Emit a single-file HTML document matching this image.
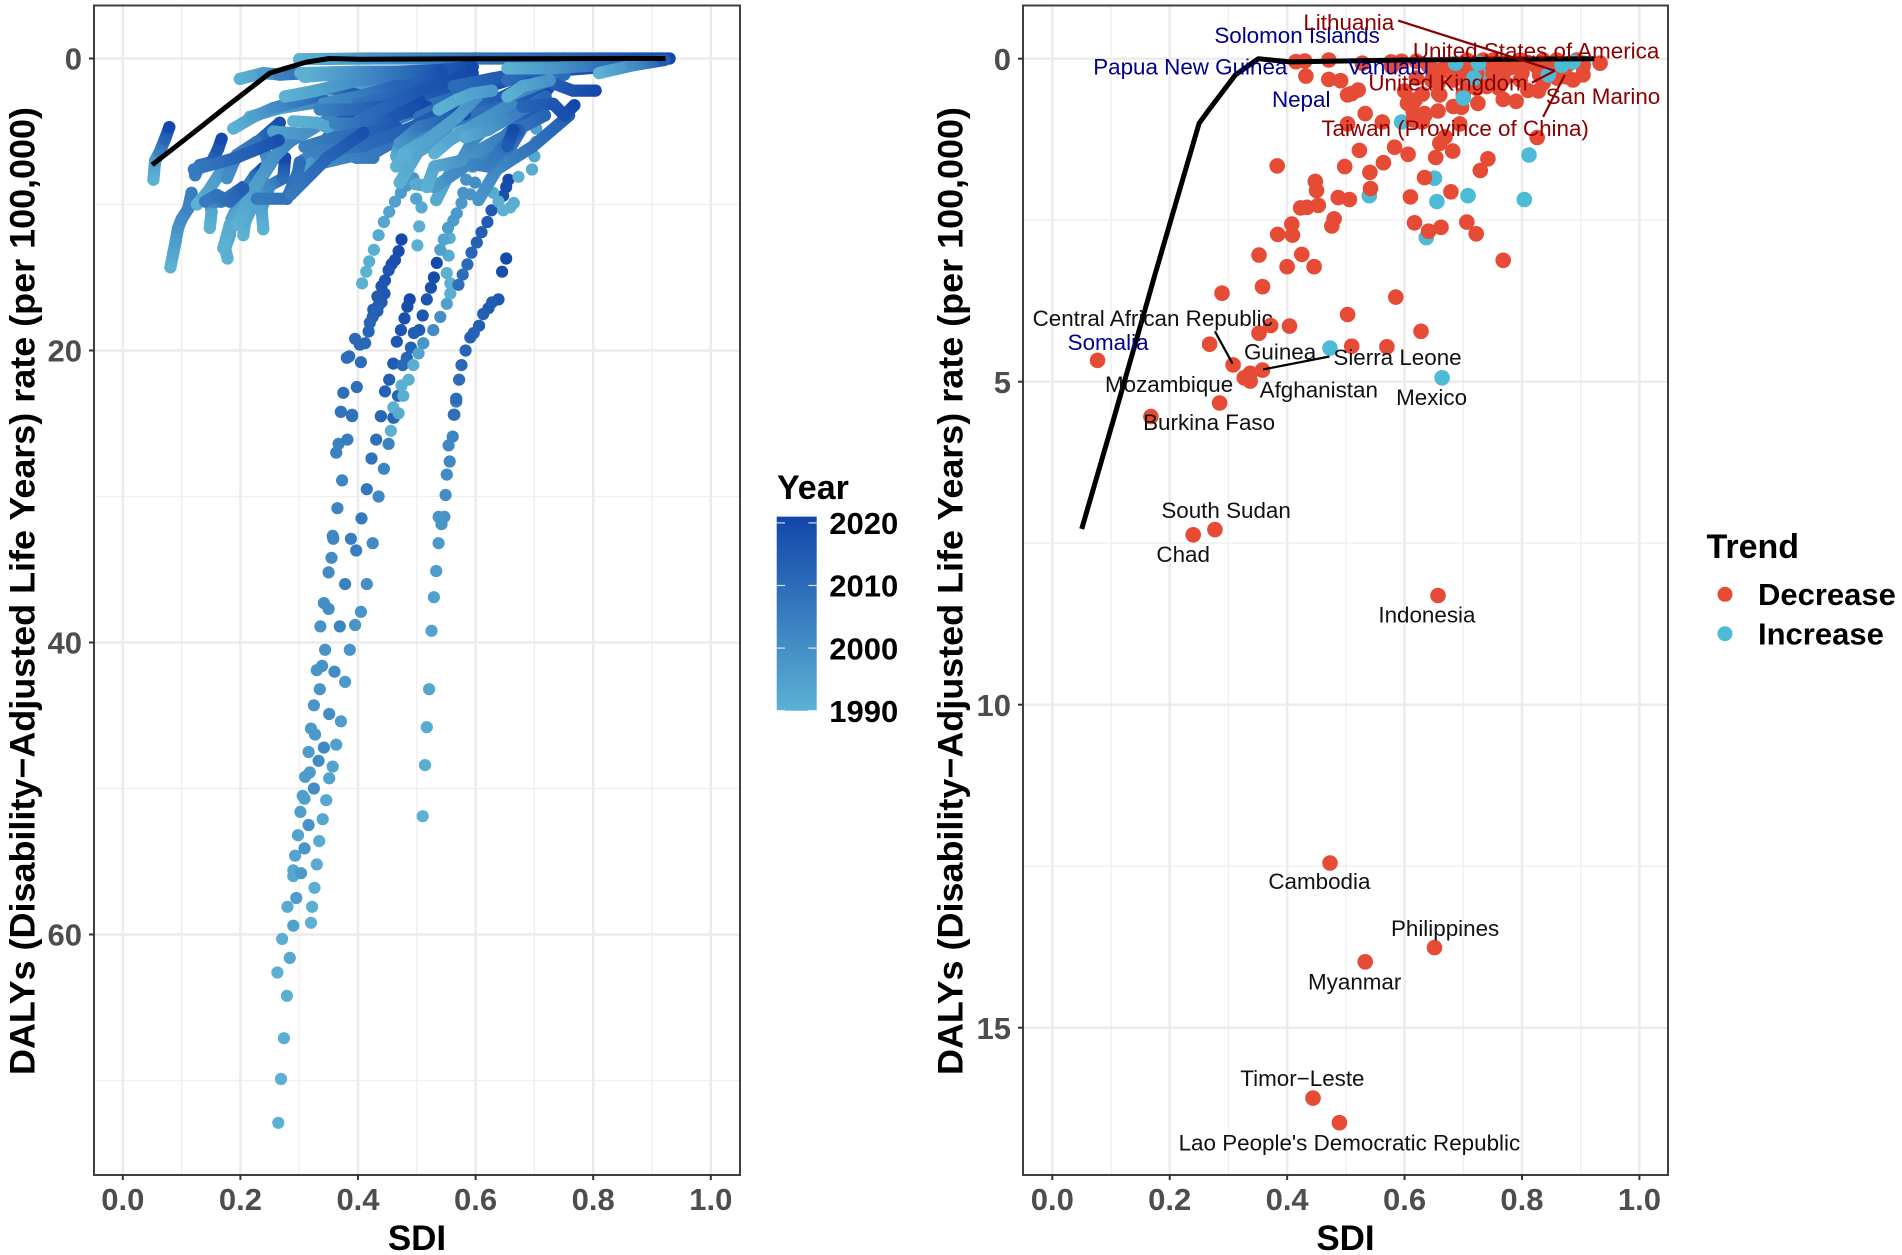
<!DOCTYPE html>
<html lang="en">
<head>
<meta charset="utf-8">
<title>DALYs rate versus SDI</title>
<style>
html,body{margin:0;padding:0;background:#fff;width:1902px;height:1255px;overflow:hidden}
svg{display:block;font-family:"Liberation Sans",sans-serif}
</style>
</head>
<body>
<svg id="chart" xmlns="http://www.w3.org/2000/svg" width="1902" height="1255" viewBox="0 0 1902 1255">
<defs id="gradients"></defs>
</svg>
<script>
/* ---------- axis values ---------- */
const sdiTicks = [0, 0.2, 0.4, 0.6, 0.8, 1.0];
const sdiMinorTicks = [0.1, 0.3, 0.5, 0.7, 0.9];
const leftDalyTicks = [0, 20, 40, 60];
const leftDalyMinorTicks = [10, 30, 50, 70];
const rightDalyTicks = [0, 5, 10, 15];
const rightDalyMinorTicks = [2.5, 7.5, 12.5];
const yearLegendTicks = [1990, 2000, 2010, 2020];

/* ---------- expected-value curve (shared by both panels) ---------- */
const expectedSdi = [0.05, 0.107, 0.164, 0.172, 0.25, 0.266, 0.312, 0.351, 0.405, 0.6, 0.923];
const expectedDaly = [7.28, 5.5, 3.69, 3.43, 1.0, 0.8, 0.25, 0, 0.05, 0.02, 0];

/* ---------- left panel: dense trajectories (readings joined into a band) ---------- */
const bandSdi = [
 [.30,.42,.60,.75,.93],
 [.052,.055,.063,.072,.079],
 [.081,.086,.090,.094,.100,.111,.117],
 [.148,.151,.148,.168,.194,.205],
 [.178,.174,.182,.185,.199,.213,.225,.239],
 [.205,.208,.222,.233,.247,.239],
 [.239,.236,.250,.273,.276],
 [.126,.145,.177,.205,.230,.267],
 [.171,.182,.205,.228,.250,.267],
 [.194,.211,.222,.256,.284,.313],
 [.123,.131,.151,.162,.168],
 [.140,.160,.182,.205],
 [.228,.279,.296,.318,.352,.381,.409],
 [.177,.194,.228],
 [.256,.307,.352,.398],
 [.216,.267,.330,.381,.432],
 [.341,.398,.454],
 [.188,.222,.256,.290,.330,.352],
 [.276,.307,.352,.409],
 [.199,.239,.267,.313],
 [.301,.330,.347,.381,.409],
 [.307,.335,.369,.398,.426],
 [.279,.296,.301],
 [.290,.330,.364,.398,.432,.454],
 [.313,.364,.454],
 [.302,.400,.504,.595],
 [.276,.328,.400,.498,.543],
 [.341,.400,.465,.563,.654],
 [.368,.413,.504,.595],
 [.400,.465,.530,.602,.654],
 [.335,.387,.426,.465,.511,.595],
 [.400,.465,.530,.582],
 [.309,.387,.465,.543],
 [.335,.387,.439,.504],
 [.361,.413,.465,.517],
 [.309,.361,.413,.465],
 [.413,.504,.595],
 [.504,.569,.634,.706],
 [.569,.634,.712],
 [.563,.628,.693,.791],
 [.654,.719,.823],
 [.485,.530,.582,.634,.693],
 [.595,.621,.647,.680],
 [.634,.660,.693,.726],
 [.471,.502,.574,.656],
 [.533,.564,.636,.718],
 [.605,.636,.698,.759],
 [.492,.595,.698],
 [.327,.409,.492,.574],
 [.286,.348,.409],
 [.121,.193,.265],
 [.465,.471,.504,.582],
 [.498,.530,.556,.589,.621,.647,.673],
 [.517,.530,.576,.595,.628,.680],
 [.465,.485,.517,.569,.602],
 [.537,.569,.595,.628],
 [.569,.595,.634,.680],
 [.530,.556,.602,.660],
 [.582,.621,.667,.719],
 [.478,.485],
 [.667,.712,.751],
 [.680,.732,.751,.768],
 [.732,.765,.804],
 [.664,.654],
 [.654,.680,.726],
 [.654,.726,.810,.921],
 [.810,.869,.921]
];
const bandDaly = [
 [.05,0,0,0,0],
 [8.3,7.0,6.4,5.5,4.7],
 [14.3,13.3,12.5,11.6,11.0,10.3,9.2],
 [11.6,10.5,9.8,9.8,9.1,8.8],
 [13.7,13.0,12.1,11.0,9.8,8.7,8.0,7.5],
 [12.1,11.2,10.0,8.7,7.1,6.0],
 [11.7,10.3,8.7,8.2,6.8],
 [10.0,9.1,7.1,6.4,5.7,4.4],
 [13.0,11.4,10.0,8.7,7.3,6.2],
 [11.4,10.0,8.9,6.8,5.7,5.0],
 [8.0,7.3,7.1,6.2,5.5],
 [9.8,9.35,9.8,8.9],
 [9.6,9.6,8.0,7.1,5.7,4.1,2.7],
 [8.2,6.6,5.7],
 [5.0,5.2,4.1,3.4],
 [4.0,3.4,3.0,2.3,1.6],
 [2.5,2.0,1.4],
 [4.8,4.0,3.4,3.0,2.6,3.1],
 [2.6,2.4,2.0,2.6],
 [1.4,1.0,1.1,1.0],
 [7.1,6.4,5.5,3.8,2.6],
 [7.5,6.8,6.4,6.8,6.8],
 [9.6,8.2,7.1],
 [4.3,4.4,5.0,5.8,5.7,5.2],
 [1.0,1.2,.9],
 [1.0,.9,.9,.57],
 [2.6,2.2,1.5,1.1,.9],
 [3.1,2.6,1.9,1.6,1.5],
 [5.1,4.0,2.6,1.7],
 [5.1,4.2,3.1,2.2,1.5],
 [7.2,6.7,6.5,5.6,4.9,3.8],
 [3.1,2.6,1.7,1.25],
 [1.25,1.0,.9,.8],
 [3.5,3.5,3.3,2.85],
 [4.45,4.45,3.9,3.3],
 [6.05,5.4,5.1,4.7],
 [4.0,2.2,1.0],
 [4.0,2.8,1.5,1.0],
 [3.8,2.8,2.2],
 [1.9,1.37,.9,.57],
 [1.5,.9,.57],
 [5.8,4.7,3.8,2.85,1.7],
 [7.4,6.7,5.4,4.2],
 [7.0,6.05,3.8,1.9],
 [8.5,6.4,4.7,3.5],
 [9.7,7.2,5.6,3.9],
 [9.7,7.6,6.0,3.9],
 [5.1,3.9,2.7],
 [6.4,6.0,4.7,3.1],
 [9.3,6.8,5.1],
 [7.6,6.8,5.6],
 [6.7,5.8,4.7,3.8],
 [8.6,8.8,8.1,7.2,7.4,6.0,4.9],
 [8.8,7.4,7.0,5.6,4.4,3.3],
 [7.4,6.3,5.6,4.0,2.6],
 [3.5,2.8,2.4,2.2],
 [5.1,4.7,4.2,3.3],
 [6.5,5.6,4.45,3.1],
 [5.4,4.9,3.8,2.6],
 [6.5,7.6],
 [2.4,1.7,1.1],
 [3.3,3.1,3.9,3.2],
 [1.7,2.2,2.2],
 [4.9,6.0],
 [2.6,1.9,1.5],
 [.68,.68,.45,.06],
 [1.0,.45,.1]
];
const bandYear = [
 [1990,1998,2008,2012,2020],
 [1990,1996,2004,2012,2020],
 [1990,1993,1996,1999,2001,2003,2005],
 [1990,1993,2000,2006,2011,2015],
 [1990,1992,1994,1996,1999,2003,2010,2020],
 [1990,1992,1994,1997,2000,2003],
 [1990,1994,2002,2010,2020],
 [1990,1994,1999,2004,2010,2018],
 [1990,1992,1995,1998,2001,2005],
 [1990,1993,1995,1999,2002,2005],
 [2005,2008,2012,2016,2020],
 [2006,2008,2010,2014],
 [2006,2008,2010,2012,2015,2018,2020],
 [2000,2004,2008],
 [1995,1998,2003,2008],
 [1990,1995,2002,2010,2015],
 [1990,1995,2000],
 [1990,1995,2000,2005,2010,2015],
 [1990,1995,2005,2020],
 [1990,1996,2004,2010],
 [2000,2005,2010,2016,2020],
 [1994,2000,2003,2005,2006],
 [2008,2008,2010],
 [1990,1992,1995,1998,2001,2004],
 [1990,1993,1999],
 [1990,1997,2010,2020],
 [1990,1994,2000,2012,2020],
 [2000,2005,2012,2016,2020],
 [2002,2008,2014,2020],
 [2000,2004,2008,2014,2020],
 [2000,2004,2006,2009,2013,2020],
 [2008,2012,2016,2020],
 [1990,1998,2008,2018],
 [2004,2010,2015,2020],
 [2004,2010,2016,2020],
 [2004,2008,2012,2016],
 [2010,2016,2020],
 [2008,2013,2017,2020],
 [2008,2014,2019],
 [2010,2014,2018,2020],
 [2010,2015,2020],
 [1996,2002,2008,2014,2020],
 [2000,2003,2006,2012],
 [2004,2008,2014,2020],
 [1990,1994,2000,2008],
 [1992,1996,2004,2012],
 [1998,2002,2008,2014],
 [2000,2008,2016],
 [2004,2010,2014,2018],
 [2006,2012,2018],
 [2006,2012,2018],
 [1992,1998,2006,2018],
 [1992,1996,2000,2003,2005,2008,2014],
 [1990,1993,1998,2002,2006,2012],
 [1990,1992,1994,1996,2000],
 [1990,1992,1994,1997],
 [1990,1992,1995,2002],
 [1990,1993,1997,2002],
 [1992,1997,2004,2012],
 [1990,1992],
 [2000,2005,2010],
 [2012,2016,2018,2020],
 [2014,2017,2020],
 [2020,2015],
 [1990,1993,1999],
 [1990,1997,2008,2020],
 [1990,2000,2015]
];

/* ---------- left panel: separated dots ---------- */
const trailSdi = [
 [.2645,.269,.274,.279,.263,.284,.271,.290,.280,.295,.290,.290,.303,.293,.309,.298,.316,.302,.309,.306,.325,.310,.318,.333,.316,.342,.327,.320,.325,.335,.330,.339,.344,.336,.350,.342,.350,.355,.358,.357,.365,.373,.363,.367,.371,.382,.390],
 [.320,.322,.326,.330,.334,.340,.346,.351,.357,.363,.371,.351,.360,.378,.386,.369,.395,.405,.378,.415,.388,.397,.425,.406,.435,.415,.444,.423,.452,.431,.461,.439],
 [.510,.514,.517,.521,.525,.529,.533,.537,.542,.547,.537,.549,.551,.556,.554,.561,.564,.567],
 [.474,.469,.463,.457,.452,.446,.440,.445,.433,.440,.435,.426,.433,.425,.420,.418,.395,.403,.412,.385,.381,.405,.375,.398,.371,.390],
 [.488,.484,.479,.473,.466,.460,.453,.446,.439,.460,.468],
 [.534,.529,.524,.517,.510,.504,.495,.490,.483,.476],
 [.501,.504,.508,.499],
 [.407,.414,.419,.427,.435,.444,.453,.463,.473,.483,.494],
 [.554,.540,.556,.546,.553,.562,.568,.576,.579,.591,.584,.599],
 [.551,.557,.557,.551,.540,.528,.511,.503,.494,.486,.474,.477,.460,.469,.456],
 [.656,.652,.647,.627,.620,.610,.602,.593,.586,.578,.571],
 [.652,.645,.639,.628,.622,.613,.606,.597,.591,.583,.576,.572,.567,.563],
 [.630,.639,.647,.659,.665],
 [.706,.703,.703,.700,.696,.673]
];
const trailDaly = [
 [72.9,69.9,67.1,64.2,62.6,61.6,60.3,59.4,58.1,57.5,56.0,55.6,55.8,54.6,54.1,53.2,52.5,51.6,50.7,50.5,50.0,49.2,48.9,48.1,47.5,47.2,46.3,45.9,44.3,43.2,41.9,41.6,40.5,38.9,37.7,37.3,35.2,34.2,32.9,32.7,30.8,28.9,27.0,26.4,24.2,26.1,24.4],
 [59.2,58.1,56.8,55.2,53.6,52.1,50.8,49.3,48.5,47.0,45.4,44.9,42.0,42.7,40.5,38.9,38.8,37.9,36.0,36.0,32.9,33.7,33.2,31.5,30.0,29.5,28.1,27.4,26.4,26.1,24.6,24.5],
 [51.9,48.4,45.8,43.2,39.2,36.9,35.1,33.2,31.9,31.4,31.4,29.9,28.5,27.6,26.5,25.9,24.4,23.5],
 [12.4,13.2,13.8,14.1,14.5,15.2,15.6,16.1,16.3,16.7,16.9,17.2,17.3,17.7,18.1,18.7,19.2,19.6,19.5,20.4,20.5,20.8,22.9,22.5,24.2,24.5],
 [16.5,17.0,17.8,18.6,19.4,20.9,22.0,22.8,24.5,24.6,23.1],
 [14.0,15.0,15.7,16.5,17.6,18.6,18.8,19.8,20.5,21.0],
 [12.8,11.5,10.2,9.6],
 [15.4,14.6,13.9,13.1,12.1,11.2,10.5,9.8,9.2,8.7,8.2],
 [13.5,13.1,12.3,12.4,11.6,11.1,10.6,9.9,9.2,9.3,8.3,8.5],
 [14.7,15.4,16.1,16.8,17.7,18.6,19.5,20.2,21.0,22.0,22.4,23.1,23.9,24.3,25.5],
 [8.3,8.8,9.4,10.4,11.2,11.9,12.6,13.3,14.1,14.8,15.5],
 [13.7,14.6,16.5,16.7,17.1,17.5,18.3,18.8,19.1,20.0,21.0,22.0,23.3,24.4],
 [9.2,9.8,10.4,10.2,9.9],
 [4.0,4.8,5.7,6.7,7.6,8.1]
];
const trailYear = [
 [1990,1990,1991,1991,1990,1993,1991,1995,1992,1996,1993,1993,1997,1994,1998,1994,1999,1995,1995,1995,2000,1996,1996,2001,1996,2002,1997,1997,1998,1998,1998,1999,1999,1999,2000,2000,2001,2001,2002,2002,2003,2003,2004,2004,2005,2005,2006],
 [1990,1991,1991,1992,1992,1993,1993,1994,1994,1995,1996,2000,2001,1997,1998,2003,1998,1999,2004,2000,2005,2005,2001,2006,2002,2007,2003,2008,2004,2009,2005,2010],
 [1990,1991,1992,1993,1994,1995,1996,1997,1998,1999,1998,2000,2001,2002,2002,2003,2004,2005],
 [2020,2019,2018,2018,2017,2017,2016,2016,2015,2015,2014,2014,2013,2013,2012,2012,2011,2011,2011,2010,2010,2010,2009,2009,2008,2008],
 [2020,2019,2018,2017,2016,2015,2014,2013,2012,2012,2012],
 [2020,2019,2018,2017,2016,2015,2014,2013,2012,2011],
 [1990,1991,1992,1994],
 [1990,1990,1991,1991,1992,1993,1994,1995,1996,1997,1998],
 [1992,1995,1990,1994,1996,1996,1997,1997,1998,1998,1999,2000],
 [1990,1990,1991,1995,2000,2001,1998,1994,1991,1991,1990,1991,1990,1992,1990],
 [2020,2019,2018,2016,2015,2014,2013,2012,2011,2010,2009],
 [2020,2019,2016,2015,2015,2014,2014,2013,2013,2012,2011,2010,2010,2009],
 [1992,1991,1990,1990,1991],
 [1996,1995,1994,1993,1992,1990]
];

/* ---------- right panel: country points ---------- */
const increaseBackSdi = [.540,.637,.651,.595,.768,.797,.740,.905];
const increaseBackDaly = [2.12,2.77,1.85,.98,.17,.15,.25,.07];
const decreaseSdi = [.415,.430,.471,.528,.577,.595,.432,.471,.491,.503,.521,.510,.605,.618,.658,.672,.533,.503,.562,.657,.683,.697,.634,.616,.630,.694,.725,.768,.790,.810,.828,.826,.660,.669,.682,.653,.606,.583,.523,.564,.498,.541,.383,.634,.742,.729,.448,.450,.542,.487,.506,.453,.423,.434,.679,.610,.480,.476,.408,.409,.384,.617,.641,.662,.706,.722,.352,.425,.400,.446,.768,.289,.358,.585,.503,.628,.404,.372,.352,.268,.510,.570,.077,.308,.358,.337,.327,.337,.285,.168,.277,.240,.657,.473,.651,.533,.444,.489,.578,.657,.660,.615,.635,.723,.751,.706,.672,.734,.797,.768,.876,.887,.859,.882,.904,.933,.825,.791,.836,.706,.646,.683,.740,.615,.768,.797,.893,.836,.904,.706,.751,.774,.655,.723,.62,.64,.75,.78,.81,.85,.87,.83,.72,.69,.66,.62,.60,.63,.70,.76,.80,.86];
const decreaseDaly = [.046,.036,.02,.07,.05,.04,.27,.32,.34,.56,.485,.54,.69,.64,.54,.10,.85,1.01,.98,.81,.74,.75,.85,.87,.98,1.01,.69,.63,.66,.49,.50,1.22,1.31,1.21,1.43,1.53,1.48,1.37,1.42,1.61,1.67,1.76,1.66,1.84,1.55,1.73,1.90,2.04,2.01,2.15,2.18,2.27,2.31,2.30,2.06,2.14,2.48,2.59,2.56,2.73,2.72,2.54,2.67,2.61,2.53,2.71,3.04,3.03,3.22,3.22,3.12,3.63,3.53,3.69,3.96,4.22,4.14,4.13,4.25,4.42,4.45,4.46,4.67,4.74,4.82,4.87,4.94,4.99,5.33,5.54,7.29,7.37,8.31,12.45,13.76,13.98,16.09,16.47,.12,.38,.56,.82,.87,.46,.23,.17,.12,.02,.33,.33,.28,.33,.02,.07,.12,.07,.12,.07,.38,.38,.33,.33,.43,.95,.23,.02,.02,.02,.25,.02,.02,.07,.18,.23,.04,.10,.12,.14,.06,.12,.18,.25,.12,.20,.22,.30,.50,.55,.55,.45,.22,.30];
const increaseFrontSdi = [.473,.664,.708,.804,.655,.812,.687,.726,.718,.700,.845,.868,.887];
const increaseFrontDaly = [4.48,4.94,2.12,2.18,2.21,1.49,.07,.07,.30,.61,.25,.10,.05];

/* ---------- right panel: annotations (label centres in data units) ---------- */
const darkRedLabels = ["Lithuania","United States of America","United Kingdom","San Marino","Taiwan (Province of China)"];
const darkRedLabelSdi = [.505,.824,.674,.938,.686];
const darkRedLabelDaly = [-.568,-.124,.372,.577,1.077];
const navyLabels = ["Solomon Islands","Papua New Guinea","Vanuatu","Nepal","Somalia"];
const navyLabelSdi = [.417,.235,.572,.424,.095];
const navyLabelDaly = [-.367,.124,.124,.628,4.39];
const blackLabels = ["Central African Republic","Guinea","Sierra Leone","Mozambique","Afghanistan","Mexico","Burkina Faso","South Sudan","Chad","Indonesia","Cambodia","Philippines","Myanmar","Timor\u2212Leste","Lao People's Democratic Republic"];
const blackLabelSdi = [.171,.388,.588,.199,.454,.646,.267,.296,.223,.638,.455,.669,.515,.426,.506];
const blackLabelDaly = [4.02,4.535,4.62,5.04,5.12,5.24,5.63,6.99,7.67,8.61,12.73,13.46,14.29,15.78,16.78];
const blackConnectorSdi = [[.277,.307],[.472,.359]];
const blackConnectorDaly = [[4.22,4.72],[4.61,4.81]];
const darkRedConnectorSdi = [[.589,.856],[.817,.856],[.836,.873]];
const darkRedConnectorDaly = [[-.59,.186],[.37,.186],[.90,.25]];

/* ---------- scales ---------- */
const xLeft = v => 122.8 + 588 * v;
const yLeft = v => 58.5 + 14.6 * v;
const xRight = v => 1052.3 + 587.1 * v;
const yRight = v => 58.7 + 64.6 * v;
const yLegend = v => 710.7 - (v - 1990) * 6.26;

const YEAR_LOW = [92, 177, 211], YEAR_HIGH = [18, 70, 170];
function yearColor(y) {
  const t = Math.max(0, Math.min(1, (y - 1990) / 31));
  const c = YEAR_LOW.map((a, i) => Math.round(a + (YEAR_HIGH[i] - a) * t));
  return 'rgb(' + c.join(',') + ')';
}

const NS = 'http://www.w3.org/2000/svg';
const svg = document.getElementById('chart');
const defs = document.getElementById('gradients');



function make(parent, tag, attrs, text) {
  const el = document.createElementNS(NS, tag);
  for (const k in attrs) el.setAttribute(k, attrs[k]);
  if (text !== undefined) el.textContent = text;
  parent.appendChild(el);
  return el;
}
function group(parent, name) {
  const g = make(parent, 'g', {});
  
  
  return g;
}

function drawPanelFrame(prefix, box, xs, ys, yMajor, yMinor) {
  const frame = group(svg, prefix + '-panel-background');
  const minorGrid = group(frame, prefix + '-minor-grid');
  sdiMinorTicks.forEach(v => {
    const l = make(minorGrid, 'line', {x1: xs(v), x2: xs(v), y1: box.top, y2: box.bottom, stroke: '#efefef', 'stroke-width': 1.3});
    
    
  });
  yMinor.forEach(v => {
    const l = make(minorGrid, 'line', {x1: box.left, x2: box.right, y1: ys(v), y2: ys(v), stroke: '#efefef', 'stroke-width': 1.3});
    
    
  });
  const majorGrid = group(frame, prefix + '-major-grid');
  sdiTicks.forEach(v => {
    const l = make(majorGrid, 'line', {x1: xs(v), x2: xs(v), y1: box.top, y2: box.bottom, stroke: '#ebebeb', 'stroke-width': 2.4});
    
    
  });
  yMajor.forEach(v => {
    const l = make(majorGrid, 'line', {x1: box.left, x2: box.right, y1: ys(v), y2: ys(v), stroke: '#ebebeb', 'stroke-width': 2.4});
    
    
  });
}

function drawPanelAxes(prefix, box, xs, ys, yMajor, tickLabelRight, yTitleX) {
  const axes = group(svg, prefix + '-axes');
  const border = make(axes, 'rect', {x: box.left, y: box.top, width: box.right - box.left, height: box.bottom - box.top, fill: 'none', stroke: '#3f3f3f', 'stroke-width': 2});
  
  
  sdiTicks.forEach(v => {
    const t = make(axes, 'line', {x1: xs(v), x2: xs(v), y1: box.bottom, y2: box.bottom + 5, stroke: '#333', 'stroke-width': 2});
    
    
    const lab = make(axes, 'text', {x: xs(v), y: 1210, 'text-anchor': 'middle', 'font-size': 31, 'font-weight': 700, fill: '#4d4d4d'}, v.toFixed(1));
    
    
  });
  yMajor.forEach(v => {
    const t = make(axes, 'line', {x1: box.left - 5, x2: box.left, y1: ys(v), y2: ys(v), stroke: '#333', 'stroke-width': 2});
    
    
    const lab = make(axes, 'text', {x: tickLabelRight, y: ys(v), dy: '.36em', 'text-anchor': 'end', 'font-size': 31, 'font-weight': 700, fill: '#4d4d4d'}, String(v));
    
    
  });
  const xTitle = make(axes, 'text', {x: (box.left + box.right) / 2, y: 1250, 'text-anchor': 'middle', 'font-size': 35, 'font-weight': 700, fill: '#000'}, 'SDI');
  
  
  const yTitle = make(axes, 'text', {x: yTitleX, y: 591, dy: '.35em', 'text-anchor': 'middle', 'font-size': 35.5, 'font-weight': 700, fill: '#000', textLength: 968, lengthAdjust: 'spacingAndGlyphs', transform: 'rotate(-90 ' + yTitleX + ' 591)'}, 'DALYs (Disability\u2212Adjusted Life Years) rate (per 100,000)');
  
  
}

function drawExpected(parent, xs, ys) {
  const pts = expectedSdi.map((s, i) => xs(s).toFixed(1) + ',' + ys(expectedDaly[i]).toFixed(1)).join(' ');
  const line = make(parent, 'polyline', {points: pts, fill: 'none', stroke: '#000', 'stroke-width': 5, 'stroke-linejoin': 'round'});
  
  
}

/* ---------- left panel ---------- */
const leftBox = {left: 94, right: 740, top: 5.5, bottom: 1175};
drawPanelFrame('left', leftBox, xLeft, yLeft, leftDalyTicks, leftDalyMinorTicks);
const leftMarks = group(svg, 'left-panel-marks');
const R_LEFT = 6.1;
let gradId = 0;

trailSdi.forEach((arr, i) => {
  const g = group(leftMarks, 'country-trail-' + i);
  arr.forEach((s, j) => {
    const c = make(g, 'circle', {cx: xLeft(s).toFixed(1), cy: yLeft(trailDaly[i][j]).toFixed(1), r: R_LEFT, fill: yearColor(trailYear[i][j])});
    
    
  });
});

bandSdi.forEach((arr, i) => {
  const g = group(leftMarks, 'country-band-' + i);
  arr.forEach((s, j) => {
    const px = xLeft(s), py = yLeft(bandDaly[i][j]);
    const col = yearColor(bandYear[i][j]);
    if (j > 0) {
      const qx = xLeft(arr[j - 1]), qy = yLeft(bandDaly[i][j - 1]);
      const id = 'seg' + (gradId++);
      const lg = make(defs, 'linearGradient', {id: id, gradientUnits: 'userSpaceOnUse', x1: qx, y1: qy, x2: px, y2: py});
      make(lg, 'stop', {offset: 0, 'stop-color': yearColor(bandYear[i][j - 1])});
      make(lg, 'stop', {offset: 1, 'stop-color': col});
      const seg = make(g, 'line', {x1: qx.toFixed(1), y1: qy.toFixed(1), x2: px.toFixed(1), y2: py.toFixed(1), stroke: 'url(#' + id + ')', 'stroke-width': R_LEFT * 2, 'stroke-linecap': 'round'});
      
      
    }
    const c = make(g, 'circle', {cx: px.toFixed(1), cy: py.toFixed(1), r: R_LEFT, fill: col});
    
    
  });
});
drawExpected(leftMarks, xLeft, yLeft);
drawPanelAxes('left', leftBox, xLeft, yLeft, leftDalyTicks, 82, 22);

/* ---------- year legend ---------- */
const yearLegend = group(svg, 'year-legend');
const yearTitle = make(yearLegend, 'text', {x: 777, y: 499, 'font-size': 34, 'font-weight': 700, fill: '#000'}, 'Year');


const barGrad = make(defs, 'linearGradient', {id: 'yearBar', x1: 0, y1: 1, x2: 0, y2: 0});
make(barGrad, 'stop', {offset: 0, 'stop-color': yearColor(1990)});
make(barGrad, 'stop', {offset: 1, 'stop-color': yearColor(2021)});
const yearBar = make(yearLegend, 'rect', {x: 776.7, y: yLegend(2021), width: 40, height: yLegend(1990) - yLegend(2021), fill: 'url(#yearBar)'});


yearLegendTicks.forEach(v => {
  [[776.7, 785], [808.4, 816.7]].forEach(p => {
    const t = make(yearLegend, 'line', {x1: p[0], x2: p[1], y1: yLegend(v), y2: yLegend(v), stroke: '#fff', 'stroke-opacity': 0.8, 'stroke-width': 1.2});
    
    
  });
  const lab = make(yearLegend, 'text', {x: 829.3, y: yLegend(v), dy: '.36em', 'font-size': 31, 'font-weight': 700, fill: '#000'}, String(v));
  
  
});

/* ---------- right panel ---------- */
const rightBox = {left: 1023, right: 1668, top: 5.5, bottom: 1175};
drawPanelFrame('right', rightBox, xRight, yRight, rightDalyTicks, rightDalyMinorTicks);
const rightMarks = group(svg, 'right-panel-marks');
const RED = '#E64B35', TEAL = '#4DBBD5', R_RIGHT = 7.8;

function drawPoints(name, sdi, daly, fill) {
  const g = group(rightMarks, name);
  sdi.forEach((s, i) => {
    const c = make(g, 'circle', {cx: xRight(s).toFixed(1), cy: yRight(daly[i]).toFixed(1), r: R_RIGHT, fill: fill});
    
    
  });
}
drawPoints('increase-points-back', increaseBackSdi, increaseBackDaly, TEAL);
drawPoints('decrease-points', decreaseSdi, decreaseDaly, RED);
drawPoints('increase-points-front', increaseFrontSdi, increaseFrontDaly, TEAL);
drawExpected(rightMarks, xRight, yRight);

function drawConnectors(name, sdi, daly, stroke) {
  const g = group(rightMarks, name);
  sdi.forEach((s, i) => {
    const l = make(g, 'line', {x1: xRight(s[0]), y1: yRight(daly[i][0]), x2: xRight(s[1]), y2: yRight(daly[i][1]), stroke: stroke, 'stroke-width': 2.2});
    
    
  });
}
drawConnectors('black-label-connectors', blackConnectorSdi, blackConnectorDaly, '#000');
drawConnectors('dark-red-label-connectors', darkRedConnectorSdi, darkRedConnectorDaly, '#8B0000');

function drawLabels(name, labels, sdi, daly, fill) {
  const g = group(rightMarks, name);
  labels.forEach((txt, i) => {
    const t = make(g, 'text', {x: xRight(sdi[i]).toFixed(1), y: yRight(daly[i]).toFixed(1), dy: '.35em', 'text-anchor': 'middle', 'font-size': 22.4, fill: fill}, txt);
    
    
  });
}
drawLabels('black-country-labels', blackLabels, blackLabelSdi, blackLabelDaly, '#111');
drawLabels('navy-country-labels', navyLabels, navyLabelSdi, navyLabelDaly, '#00008B');
drawLabels('dark-red-country-labels', darkRedLabels, darkRedLabelSdi, darkRedLabelDaly, '#8B0000');
drawPanelAxes('right', rightBox, xRight, yRight, rightDalyTicks, 1011, 950);
</script>
<svg style="position:absolute;left:0;top:0;pointer-events:none" width="1902" height="1255" viewBox="0 0 1902 1255" xmlns="http://www.w3.org/2000/svg">
  <g font-family="Liberation Sans, sans-serif" font-weight="700" fill="#000">
    <text x="1706.5" y="558" font-size="34">Trend</text>
    <circle cx="1725" cy="594.3" r="7.5" fill="#E64B35"/>
    <text x="1758" y="605" font-size="31">Decrease</text>
    <circle cx="1725" cy="633.7" r="7.5" fill="#4DBBD5"/>
    <text x="1758" y="644.3" font-size="31">Increase</text>
  </g>
</svg>
</body>
</html>
